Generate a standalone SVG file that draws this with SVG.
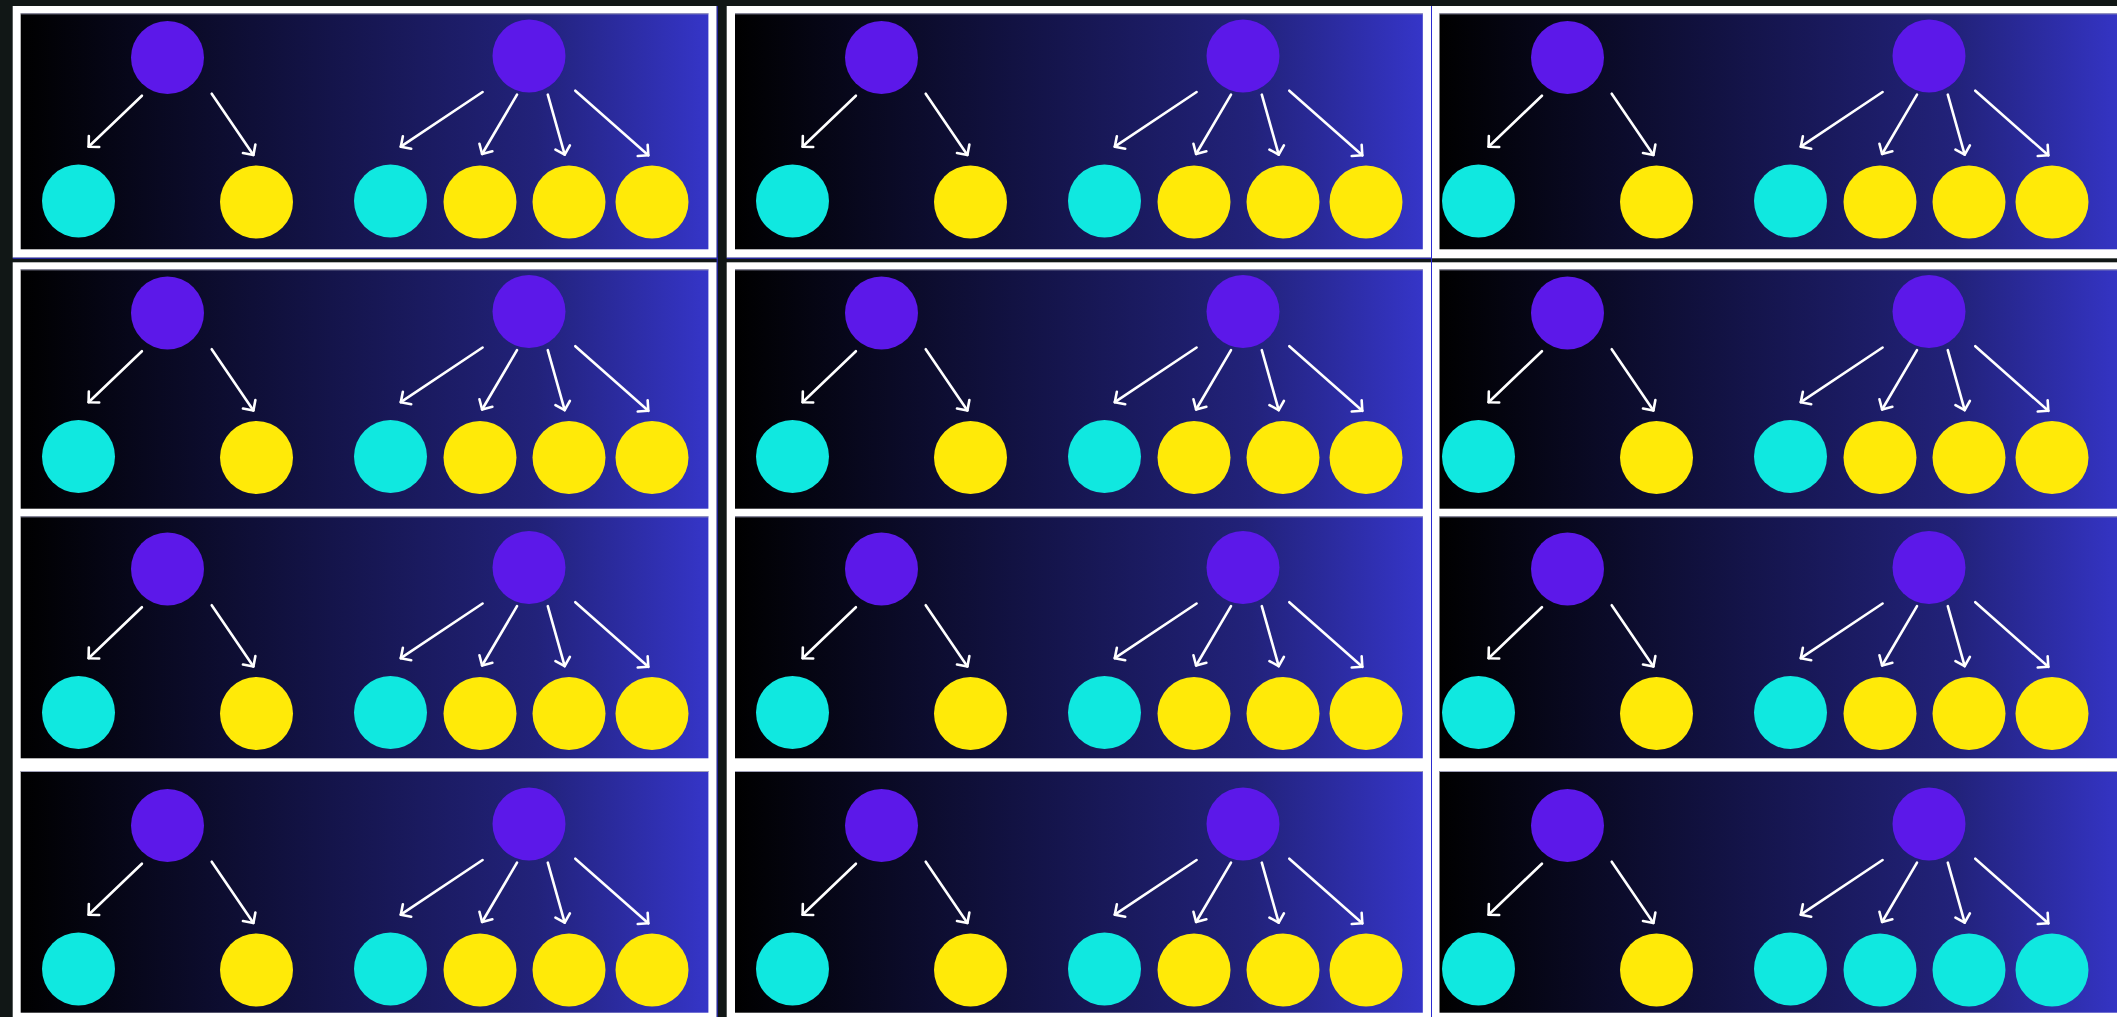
<svg xmlns="http://www.w3.org/2000/svg" width="2117" height="1017" viewBox="0 0 2117 1017">
<defs>
<linearGradient id="bg" x1="0" y1="0" x2="1" y2="0">
<stop offset="0" stop-color="#000000"/>
<stop offset="0.45" stop-color="#14144a"/>
<stop offset="0.75" stop-color="#22227a"/>
<stop offset="1" stop-color="#3535c8"/>
</linearGradient>
<marker id="ah" markerUnits="userSpaceOnUse" viewBox="-10 -10 20 20" markerWidth="20" markerHeight="20" refX="0" refY="0" orient="auto" overflow="visible">
<path d="M-7.5,-7.5 L0,0 L-7.5,7.5" fill="none" stroke="#ffffff" stroke-width="2.6" stroke-linecap="round" stroke-linejoin="round"/>
</marker>
</defs>
<style>
.frame{fill:#ffffff}
.blue{fill:#2b2bd0}
.inner{fill:url(#bg)}
.edge{stroke:#a0a0b8;stroke-width:1}
.p{fill:#5c18e9}
.c{fill:#10e8e0}
.y{fill:#ffea08}
.arr{stroke:#ffffff;stroke-width:2.6;fill:none;stroke-linecap:round;marker-end:url(#ah)}
</style>
<rect x="0" y="0" width="2117" height="1017" fill="#111716"/>
<g id="frames">
<rect class="frame" x="12.7" y="6" width="704" height="251.7"/>
<rect class="frame" x="726.7" y="6" width="704.3" height="251.7"/>
<rect class="frame" x="1432" y="6" width="700" height="252.3"/>
<rect class="frame" x="12.7" y="262.3" width="704" height="760"/>
<rect class="frame" x="726.7" y="262.3" width="704.3" height="760"/>
<rect class="frame" x="1432" y="262.3" width="700" height="760"/>
<rect class="blue" x="716.7" y="6" width="1" height="1011"/>
<rect class="blue" x="12.7" y="257.7" width="705" height="1"/>
<rect class="blue" x="1431" y="6" width="1" height="1011"/>
<rect class="blue" x="726.7" y="257.7" width="705.3" height="1"/>
</g>
<g id="backgrounds">
<rect class="inner" x="20.7" y="13.3" width="687.7" height="236"/>
<rect class="inner" x="735" y="13.3" width="687.8" height="236"/>
<rect class="inner" x="1439.5" y="13.3" width="688" height="236"/>
<rect class="inner" x="20.7" y="269.3" width="687.7" height="239.4"/>
<rect class="inner" x="735" y="269.3" width="687.8" height="239.4"/>
<rect class="inner" x="1439.5" y="269.3" width="688" height="239.4"/>
<rect class="inner" x="20.7" y="516.3" width="687.7" height="242"/>
<rect class="inner" x="735" y="516.3" width="687.8" height="242"/>
<rect class="inner" x="1439.5" y="516.3" width="688" height="242"/>
<rect class="inner" x="20.7" y="771" width="687.7" height="241.7"/>
<rect class="inner" x="735" y="771" width="687.8" height="241.7"/>
<rect class="inner" x="1439.5" y="771" width="688" height="241.7"/>
<path class="edge" d="M20.7,13.8H708.4M735,13.8H1422.8M1439.5,13.8H2117M20.7,269.8H708.4M735,269.8H1422.8M1439.5,269.8H2117M20.7,516.8H708.4M735,516.8H1422.8M1439.5,516.8H2117M20.7,771.5H708.4M735,771.5H1422.8M1439.5,771.5H2117"/>
</g>
<g id="connectors">
<g transform="translate(0,0)"><line class="arr" x1="141.9" y1="95.7" x2="88.6" y2="146.7"/><line class="arr" x1="211.7" y1="93.7" x2="253.4" y2="155"/><line class="arr" x1="482.6" y1="92" x2="400.8" y2="146.7"/><line class="arr" x1="517" y1="94.7" x2="482.1" y2="154"/><line class="arr" x1="547.8" y1="94.7" x2="564.7" y2="154.7"/><line class="arr" x1="575.3" y1="90.7" x2="648.3" y2="155.3"/></g>
<g transform="translate(714,0)"><line class="arr" x1="141.9" y1="95.7" x2="88.6" y2="146.7"/><line class="arr" x1="211.7" y1="93.7" x2="253.4" y2="155"/><line class="arr" x1="482.6" y1="92" x2="400.8" y2="146.7"/><line class="arr" x1="517" y1="94.7" x2="482.1" y2="154"/><line class="arr" x1="547.8" y1="94.7" x2="564.7" y2="154.7"/><line class="arr" x1="575.3" y1="90.7" x2="648.3" y2="155.3"/></g>
<g transform="translate(1400,0)"><line class="arr" x1="141.9" y1="95.7" x2="88.6" y2="146.7"/><line class="arr" x1="211.7" y1="93.7" x2="253.4" y2="155"/><line class="arr" x1="482.6" y1="92" x2="400.8" y2="146.7"/><line class="arr" x1="517" y1="94.7" x2="482.1" y2="154"/><line class="arr" x1="547.8" y1="94.7" x2="564.7" y2="154.7"/><line class="arr" x1="575.3" y1="90.7" x2="648.3" y2="155.3"/></g>
<g transform="translate(0,255.5)"><line class="arr" x1="141.9" y1="95.7" x2="88.6" y2="146.7"/><line class="arr" x1="211.7" y1="93.7" x2="253.4" y2="155"/><line class="arr" x1="482.6" y1="92" x2="400.8" y2="146.7"/><line class="arr" x1="517" y1="94.7" x2="482.1" y2="154"/><line class="arr" x1="547.8" y1="94.7" x2="564.7" y2="154.7"/><line class="arr" x1="575.3" y1="90.7" x2="648.3" y2="155.3"/></g>
<g transform="translate(714,255.5)"><line class="arr" x1="141.9" y1="95.7" x2="88.6" y2="146.7"/><line class="arr" x1="211.7" y1="93.7" x2="253.4" y2="155"/><line class="arr" x1="482.6" y1="92" x2="400.8" y2="146.7"/><line class="arr" x1="517" y1="94.7" x2="482.1" y2="154"/><line class="arr" x1="547.8" y1="94.7" x2="564.7" y2="154.7"/><line class="arr" x1="575.3" y1="90.7" x2="648.3" y2="155.3"/></g>
<g transform="translate(1400,255.5)"><line class="arr" x1="141.9" y1="95.7" x2="88.6" y2="146.7"/><line class="arr" x1="211.7" y1="93.7" x2="253.4" y2="155"/><line class="arr" x1="482.6" y1="92" x2="400.8" y2="146.7"/><line class="arr" x1="517" y1="94.7" x2="482.1" y2="154"/><line class="arr" x1="547.8" y1="94.7" x2="564.7" y2="154.7"/><line class="arr" x1="575.3" y1="90.7" x2="648.3" y2="155.3"/></g>
<g transform="translate(0,511.5)"><line class="arr" x1="141.9" y1="95.7" x2="88.6" y2="146.7"/><line class="arr" x1="211.7" y1="93.7" x2="253.4" y2="155"/><line class="arr" x1="482.6" y1="92" x2="400.8" y2="146.7"/><line class="arr" x1="517" y1="94.7" x2="482.1" y2="154"/><line class="arr" x1="547.8" y1="94.7" x2="564.7" y2="154.7"/><line class="arr" x1="575.3" y1="90.7" x2="648.3" y2="155.3"/></g>
<g transform="translate(714,511.5)"><line class="arr" x1="141.9" y1="95.7" x2="88.6" y2="146.7"/><line class="arr" x1="211.7" y1="93.7" x2="253.4" y2="155"/><line class="arr" x1="482.6" y1="92" x2="400.8" y2="146.7"/><line class="arr" x1="517" y1="94.7" x2="482.1" y2="154"/><line class="arr" x1="547.8" y1="94.7" x2="564.7" y2="154.7"/><line class="arr" x1="575.3" y1="90.7" x2="648.3" y2="155.3"/></g>
<g transform="translate(1400,511.5)"><line class="arr" x1="141.9" y1="95.7" x2="88.6" y2="146.7"/><line class="arr" x1="211.7" y1="93.7" x2="253.4" y2="155"/><line class="arr" x1="482.6" y1="92" x2="400.8" y2="146.7"/><line class="arr" x1="517" y1="94.7" x2="482.1" y2="154"/><line class="arr" x1="547.8" y1="94.7" x2="564.7" y2="154.7"/><line class="arr" x1="575.3" y1="90.7" x2="648.3" y2="155.3"/></g>
<g transform="translate(0,768)"><line class="arr" x1="141.9" y1="95.7" x2="88.6" y2="146.7"/><line class="arr" x1="211.7" y1="93.7" x2="253.4" y2="155"/><line class="arr" x1="482.6" y1="92" x2="400.8" y2="146.7"/><line class="arr" x1="517" y1="94.7" x2="482.1" y2="154"/><line class="arr" x1="547.8" y1="94.7" x2="564.7" y2="154.7"/><line class="arr" x1="575.3" y1="90.7" x2="648.3" y2="155.3"/></g>
<g transform="translate(714,768)"><line class="arr" x1="141.9" y1="95.7" x2="88.6" y2="146.7"/><line class="arr" x1="211.7" y1="93.7" x2="253.4" y2="155"/><line class="arr" x1="482.6" y1="92" x2="400.8" y2="146.7"/><line class="arr" x1="517" y1="94.7" x2="482.1" y2="154"/><line class="arr" x1="547.8" y1="94.7" x2="564.7" y2="154.7"/><line class="arr" x1="575.3" y1="90.7" x2="648.3" y2="155.3"/></g>
<g transform="translate(1400,768)"><line class="arr" x1="141.9" y1="95.7" x2="88.6" y2="146.7"/><line class="arr" x1="211.7" y1="93.7" x2="253.4" y2="155"/><line class="arr" x1="482.6" y1="92" x2="400.8" y2="146.7"/><line class="arr" x1="517" y1="94.7" x2="482.1" y2="154"/><line class="arr" x1="547.8" y1="94.7" x2="564.7" y2="154.7"/><line class="arr" x1="575.3" y1="90.7" x2="648.3" y2="155.3"/></g>
</g>
<g id="panel-r1c1" transform="translate(0,0)">
<g id="r1c1-root-a"><circle class="p" cx="167.5" cy="57.5" r="36.5"/></g><g id="r1c1-root-b"><circle class="p" cx="529" cy="56" r="36.5"/></g><g id="r1c1-a1"><circle class="c" cx="78.5" cy="201" r="36.5"/></g><g id="r1c1-a2"><circle class="y" cx="256.5" cy="202" r="36.5"/></g><g id="r1c1-b1"><circle class="c" cx="390.5" cy="201" r="36.5"/></g><g id="r1c1-b2"><circle class="y" cx="480" cy="202" r="36.5"/></g><g id="r1c1-b3"><circle class="y" cx="569" cy="202" r="36.5"/></g><g id="r1c1-b4"><circle class="y" cx="652" cy="202" r="36.5"/></g>
</g>
<g id="panel-r1c2" transform="translate(714,0)">
<g id="r1c2-root-a"><circle class="p" cx="167.5" cy="57.5" r="36.5"/></g><g id="r1c2-root-b"><circle class="p" cx="529" cy="56" r="36.5"/></g><g id="r1c2-a1"><circle class="c" cx="78.5" cy="201" r="36.5"/></g><g id="r1c2-a2"><circle class="y" cx="256.5" cy="202" r="36.5"/></g><g id="r1c2-b1"><circle class="c" cx="390.5" cy="201" r="36.5"/></g><g id="r1c2-b2"><circle class="y" cx="480" cy="202" r="36.5"/></g><g id="r1c2-b3"><circle class="y" cx="569" cy="202" r="36.5"/></g><g id="r1c2-b4"><circle class="y" cx="652" cy="202" r="36.5"/></g>
</g>
<g id="panel-r1c3" transform="translate(1400,0)">
<g id="r1c3-root-a"><circle class="p" cx="167.5" cy="57.5" r="36.5"/></g><g id="r1c3-root-b"><circle class="p" cx="529" cy="56" r="36.5"/></g><g id="r1c3-a1"><circle class="c" cx="78.5" cy="201" r="36.5"/></g><g id="r1c3-a2"><circle class="y" cx="256.5" cy="202" r="36.5"/></g><g id="r1c3-b1"><circle class="c" cx="390.5" cy="201" r="36.5"/></g><g id="r1c3-b2"><circle class="y" cx="480" cy="202" r="36.5"/></g><g id="r1c3-b3"><circle class="y" cx="569" cy="202" r="36.5"/></g><g id="r1c3-b4"><circle class="y" cx="652" cy="202" r="36.5"/></g>
</g>
<g id="panel-r2c1" transform="translate(0,255.5)">
<g id="r2c1-root-a"><circle class="p" cx="167.5" cy="57.5" r="36.5"/></g><g id="r2c1-root-b"><circle class="p" cx="529" cy="56" r="36.5"/></g><g id="r2c1-a1"><circle class="c" cx="78.5" cy="201" r="36.5"/></g><g id="r2c1-a2"><circle class="y" cx="256.5" cy="202" r="36.5"/></g><g id="r2c1-b1"><circle class="c" cx="390.5" cy="201" r="36.5"/></g><g id="r2c1-b2"><circle class="y" cx="480" cy="202" r="36.5"/></g><g id="r2c1-b3"><circle class="y" cx="569" cy="202" r="36.5"/></g><g id="r2c1-b4"><circle class="y" cx="652" cy="202" r="36.5"/></g>
</g>
<g id="panel-r2c2" transform="translate(714,255.5)">
<g id="r2c2-root-a"><circle class="p" cx="167.5" cy="57.5" r="36.5"/></g><g id="r2c2-root-b"><circle class="p" cx="529" cy="56" r="36.5"/></g><g id="r2c2-a1"><circle class="c" cx="78.5" cy="201" r="36.5"/></g><g id="r2c2-a2"><circle class="y" cx="256.5" cy="202" r="36.5"/></g><g id="r2c2-b1"><circle class="c" cx="390.5" cy="201" r="36.5"/></g><g id="r2c2-b2"><circle class="y" cx="480" cy="202" r="36.5"/></g><g id="r2c2-b3"><circle class="y" cx="569" cy="202" r="36.5"/></g><g id="r2c2-b4"><circle class="y" cx="652" cy="202" r="36.5"/></g>
</g>
<g id="panel-r2c3" transform="translate(1400,255.5)">
<g id="r2c3-root-a"><circle class="p" cx="167.5" cy="57.5" r="36.5"/></g><g id="r2c3-root-b"><circle class="p" cx="529" cy="56" r="36.5"/></g><g id="r2c3-a1"><circle class="c" cx="78.5" cy="201" r="36.5"/></g><g id="r2c3-a2"><circle class="y" cx="256.5" cy="202" r="36.5"/></g><g id="r2c3-b1"><circle class="c" cx="390.5" cy="201" r="36.5"/></g><g id="r2c3-b2"><circle class="y" cx="480" cy="202" r="36.5"/></g><g id="r2c3-b3"><circle class="y" cx="569" cy="202" r="36.5"/></g><g id="r2c3-b4"><circle class="y" cx="652" cy="202" r="36.5"/></g>
</g>
<g id="panel-r3c1" transform="translate(0,511.5)">
<g id="r3c1-root-a"><circle class="p" cx="167.5" cy="57.5" r="36.5"/></g><g id="r3c1-root-b"><circle class="p" cx="529" cy="56" r="36.5"/></g><g id="r3c1-a1"><circle class="c" cx="78.5" cy="201" r="36.5"/></g><g id="r3c1-a2"><circle class="y" cx="256.5" cy="202" r="36.5"/></g><g id="r3c1-b1"><circle class="c" cx="390.5" cy="201" r="36.5"/></g><g id="r3c1-b2"><circle class="y" cx="480" cy="202" r="36.5"/></g><g id="r3c1-b3"><circle class="y" cx="569" cy="202" r="36.5"/></g><g id="r3c1-b4"><circle class="y" cx="652" cy="202" r="36.5"/></g>
</g>
<g id="panel-r3c2" transform="translate(714,511.5)">
<g id="r3c2-root-a"><circle class="p" cx="167.5" cy="57.5" r="36.5"/></g><g id="r3c2-root-b"><circle class="p" cx="529" cy="56" r="36.5"/></g><g id="r3c2-a1"><circle class="c" cx="78.5" cy="201" r="36.5"/></g><g id="r3c2-a2"><circle class="y" cx="256.5" cy="202" r="36.5"/></g><g id="r3c2-b1"><circle class="c" cx="390.5" cy="201" r="36.5"/></g><g id="r3c2-b2"><circle class="y" cx="480" cy="202" r="36.5"/></g><g id="r3c2-b3"><circle class="y" cx="569" cy="202" r="36.5"/></g><g id="r3c2-b4"><circle class="y" cx="652" cy="202" r="36.5"/></g>
</g>
<g id="panel-r3c3" transform="translate(1400,511.5)">
<g id="r3c3-root-a"><circle class="p" cx="167.5" cy="57.5" r="36.5"/></g><g id="r3c3-root-b"><circle class="p" cx="529" cy="56" r="36.5"/></g><g id="r3c3-a1"><circle class="c" cx="78.5" cy="201" r="36.5"/></g><g id="r3c3-a2"><circle class="y" cx="256.5" cy="202" r="36.5"/></g><g id="r3c3-b1"><circle class="c" cx="390.5" cy="201" r="36.5"/></g><g id="r3c3-b2"><circle class="y" cx="480" cy="202" r="36.5"/></g><g id="r3c3-b3"><circle class="y" cx="569" cy="202" r="36.5"/></g><g id="r3c3-b4"><circle class="y" cx="652" cy="202" r="36.5"/></g>
</g>
<g id="panel-r4c1" transform="translate(0,768)">
<g id="r4c1-root-a"><circle class="p" cx="167.5" cy="57.5" r="36.5"/></g><g id="r4c1-root-b"><circle class="p" cx="529" cy="56" r="36.5"/></g><g id="r4c1-a1"><circle class="c" cx="78.5" cy="201" r="36.5"/></g><g id="r4c1-a2"><circle class="y" cx="256.5" cy="202" r="36.5"/></g><g id="r4c1-b1"><circle class="c" cx="390.5" cy="201" r="36.5"/></g><g id="r4c1-b2"><circle class="y" cx="480" cy="202" r="36.5"/></g><g id="r4c1-b3"><circle class="y" cx="569" cy="202" r="36.5"/></g><g id="r4c1-b4"><circle class="y" cx="652" cy="202" r="36.5"/></g>
</g>
<g id="panel-r4c2" transform="translate(714,768)">
<g id="r4c2-root-a"><circle class="p" cx="167.5" cy="57.5" r="36.5"/></g><g id="r4c2-root-b"><circle class="p" cx="529" cy="56" r="36.5"/></g><g id="r4c2-a1"><circle class="c" cx="78.5" cy="201" r="36.5"/></g><g id="r4c2-a2"><circle class="y" cx="256.5" cy="202" r="36.5"/></g><g id="r4c2-b1"><circle class="c" cx="390.5" cy="201" r="36.5"/></g><g id="r4c2-b2"><circle class="y" cx="480" cy="202" r="36.5"/></g><g id="r4c2-b3"><circle class="y" cx="569" cy="202" r="36.5"/></g><g id="r4c2-b4"><circle class="y" cx="652" cy="202" r="36.5"/></g>
</g>
<g id="panel-r4c3" transform="translate(1400,768)">
<g id="r4c3-root-a"><circle class="p" cx="167.5" cy="57.5" r="36.5"/></g><g id="r4c3-root-b"><circle class="p" cx="529" cy="56" r="36.5"/></g><g id="r4c3-a1"><circle class="c" cx="78.5" cy="201" r="36.5"/></g><g id="r4c3-a2"><circle class="y" cx="256.5" cy="202" r="36.5"/></g><g id="r4c3-b1"><circle class="c" cx="390.5" cy="201" r="36.5"/></g><g id="r4c3-b2"><circle class="c" cx="480" cy="202" r="36.5"/></g><g id="r4c3-b3"><circle class="c" cx="569" cy="202" r="36.5"/></g><g id="r4c3-b4"><circle class="c" cx="652" cy="202" r="36.5"/></g>
</g>
</svg>
